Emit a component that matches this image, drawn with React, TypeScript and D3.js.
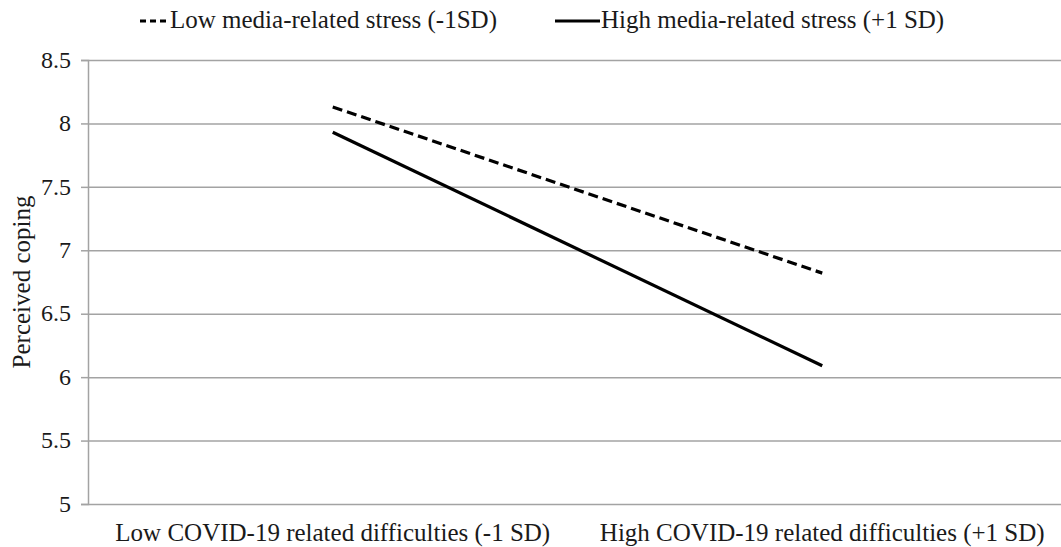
import { useEffect, useRef } from 'react';
import * as d3 from 'd3';

const categories = [
  'Low COVID-19 related difficulties (-1 SD)',
  'High COVID-19 related difficulties (+1 SD)',
];
const lowStress = [8.13, 6.82];
const highStress = [7.93, 6.09];
const seriesNames = ['Low media-related stress (-1SD)', 'High media-related stress (+1 SD)'];
const yTicks = [5, 5.5, 6, 6.5, 7, 7.5, 8, 8.5];

export default function App() {
  const svgRef = useRef<SVGSVGElement | null>(null);

  useEffect(() => {
    if (!svgRef.current) return;
    document.body.style.margin = '0';
    const svg = d3.select(svgRef.current);
    svg.selectAll('*').remove();

    const width = 1061;
    const height = 547;
    const margin = { top: 60, right: -6, bottom: 43, left: 88 };
    const font = '"Liberation Serif", "Times New Roman", serif';
    const ink = '#1a1a1a';
    const gridColor = '#a3a3a3';

    const x = d3
      .scaleBand<string>()
      .domain(categories)
      .range([margin.left, width - margin.right]);
    const y = d3
      .scaleLinear()
      .domain([5, 8.5])
      .range([height - margin.bottom, margin.top]);

    svg.attr('width', width).attr('height', height).style('font-family', font);

    // horizontal grid
    const grid = svg
      .append('g')
      .attr('transform', `translate(${margin.left},0)`)
      .call(
        d3
          .axisLeft(y)
          .tickValues(yTicks)
          .tickSize(-(width - margin.right - margin.left))
          .tickFormat(() => '')
      );
    grid.select('.domain').remove();
    grid.selectAll('line').style('stroke', gridColor).style('stroke-width', 1.5);

    // y axis
    const yAxis = svg
      .append('g')
      .attr('transform', `translate(${margin.left},0)`)
      .call(
        d3
          .axisLeft(y)
          .tickValues(yTicks)
          .tickSize(7)
          .tickPadding(10)
          .tickFormat((d) => String(d))
      );
    yAxis.attr('font-family', null);
    yAxis.select('.domain').style('stroke', gridColor).style('stroke-width', 1.5);
    yAxis.selectAll('.tick line').style('stroke', gridColor).style('stroke-width', 1.5);
    yAxis
      .selectAll('.tick text')
      .style('font-family', font)
      .style('font-size', '24px')
      .attr('dy', '0.3em')
      .attr('fill', ink);

    // x category labels
    const xAxis = svg
      .append('g')
      .attr('transform', `translate(0,${height - margin.bottom})`)
      .call(d3.axisBottom(x).tickSize(0).tickPadding(19));
    xAxis.attr('font-family', null);
    xAxis.select('.domain').remove();
    xAxis
      .selectAll('.tick text')
      .style('font-family', font)
      .style('font-size', '25px')
      .attr('fill', ink);

    // y title
    svg
      .append('text')
      .attr('transform', `translate(30,${(margin.top + height - margin.bottom) / 2}) rotate(-90)`)
      .attr('text-anchor', 'middle')
      .style('font-size', '25px')
      .attr('fill', ink)
      .text('Perceived coping');

    const cx = (i: number) => (x(categories[i]) ?? 0) + x.bandwidth() / 2;
    const line = d3
      .line<number>()
      .x((_, i) => cx(i))
      .y((d) => y(d));

    svg
      .append('path')
      .datum(lowStress)
      .attr('fill', 'none')
      .attr('stroke', '#000')
      .attr('stroke-width', 3.2)
      .attr('stroke-dasharray', '10,5')
      .attr('d', line);

    svg
      .append('path')
      .datum(highStress)
      .attr('fill', 'none')
      .attr('stroke', '#000')
      .attr('stroke-width', 3.2)
      .attr('d', line);

    // legend
    const legend = svg.append('g').style('font-size', '25px');
    legend
      .append('line')
      .attr('x1', 140)
      .attr('x2', 166)
      .attr('y1', 21)
      .attr('y2', 21)
      .attr('stroke', '#000')
      .attr('stroke-width', 3.2)
      .attr('stroke-dasharray', '6,4');
    legend
      .append('text')
      .attr('x', 170)
      .attr('y', 28)
      .attr('fill', ink)
      .text(seriesNames[0]);
    legend
      .append('line')
      .attr('x1', 555)
      .attr('x2', 600)
      .attr('y1', 21)
      .attr('y2', 21)
      .attr('stroke', '#000')
      .attr('stroke-width', 3.2);
    legend
      .append('text')
      .attr('x', 601)
      .attr('y', 28)
      .attr('fill', ink)
      .text(seriesNames[1]);
  }, []);

  return <svg ref={svgRef} role="img" aria-label="Line chart" style={{ display: 'block' }} />;
}
